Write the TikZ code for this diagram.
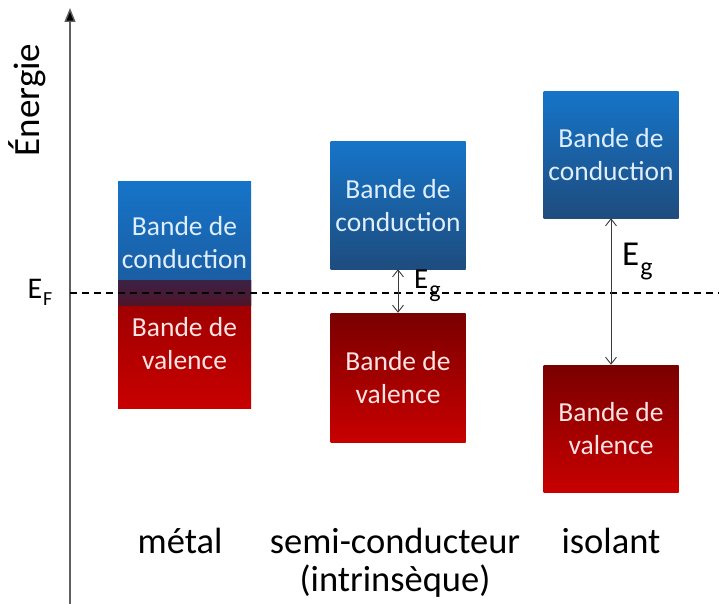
\documentclass[tikz,border=0pt]{standalone}
\usepackage{fontspec}
\setmainfont{Carlito}
\usetikzlibrary{arrows.meta,shadings}
\definecolor{blueT}{RGB}{22,116,200}
\definecolor{blueB}{RGB}{30,76,126}
\definecolor{redT}{RGB}{122,0,0}
\definecolor{redB}{RGB}{200,0,0}
\definecolor{mblueB}{RGB}{28,88,154}
\definecolor{ovT}{RGB}{58,34,70}
\definecolor{ovB}{RGB}{80,20,40}
\definecolor{mredT}{RGB}{150,0,0}
\definecolor{txtB}{RGB}{222,238,252}
\definecolor{txtR}{RGB}{252,228,228}
\definecolor{axisgray}{RGB}{95,95,95}
\definecolor{gapgray}{RGB}{60,60,60}
\begin{document}
\begin{tikzpicture}[x=1pt,y=-1pt,
  band/.style={inner sep=0pt, align=center, minimum width=134pt,
    font=\fontsize{27.5}{33}\selectfont},
  cband/.style={band, top color=blueT, bottom color=blueB, text=txtB},
  vband/.style={band, top color=redT, bottom color=redB, text=txtR},
  gaparrow/.style={draw=gapgray, line width=0.9pt,
    {Straight Barb[length=7pt,width=11pt]}-{Straight Barb[length=7pt,width=11pt]}},
  lab/.style={font=\fontsize{36.5}{40}\selectfont, anchor=base},
  eglab/.style={anchor=west, inner sep=0pt}]
\useasboundingbox (0,0) rectangle (719,604);

% metal
\node[cband, minimum width=133pt, minimum height=124pt, bottom color=mblueB] (mc) at (184.5,243) {Bande de\\conduction};
\node[vband, minimum width=133pt, minimum height=128pt, top color=mredT] (mv) at (184.5,344) {Bande de\\valence};
\shade[top color=ovT, bottom color=ovB] (118,280) rectangle (251,305);

% semi-conducteur
\node[cband, minimum width=135pt, minimum height=127pt] (sc) at (398,205.5) {Bande de\\conduction};
\node[vband, minimum width=135pt, minimum height=129pt] (sv) at (398,377.5) {Bande de\\valence};

% isolant
\node[cband, minimum width=135pt, minimum height=126pt] (ic) at (611,155) {Bande de\\conduction};
\node[vband, minimum width=135pt, minimum height=127pt] (iv) at (611,428.5) {Bande de\\valence};

% axis
\coordinate (ax0) at (70,604);
\coordinate (ax1) at (70,8);
\draw[draw=axisgray, line width=1.4pt, -{Triangle[length=14pt,width=11pt,fill=black]}] (ax0) -- (ax1);
\node[rotate=90, font=\fontsize{37}{40}\selectfont] (energie) at (27,100) {Énergie};

% Fermi level
\coordinate (ef0) at (70,293);
\coordinate (ef1) at (719,293);
\draw[black, line width=1.3pt, dash pattern=on 7pt off 5pt] (ef0) -- (ef1);
\node[font=\fontsize{30}{32}\selectfont, inner sep=0pt] (eflab) at (40,292) {E\kern1pt\raisebox{-7pt}{\fontsize{20}{20}\selectfont F}};

% gaps
\draw[gaparrow] (sc.south) -- (sv.north);
\draw[gaparrow] (ic.south) -- (iv.north);
\node[eglab, font=\fontsize{29}{30}\selectfont] (eg1) at (414,286) {E\kern1pt\raisebox{-9pt}{\fontsize{24}{24}\selectfont g}};
\node[eglab, font=\fontsize{35}{38}\selectfont] (eg2) at (622,262) {E\kern1pt\raisebox{-10pt}{\fontsize{26}{26}\selectfont g}};

% labels
\node[lab] (l1) at (180,553) {métal};
\node[lab] (l2) at (395,553) {semi-conducteur};
\node[lab] (l3) at (395,591) {(intrinsèque)};
\node[lab] (l4) at (611,553) {isolant};
\end{tikzpicture}
\end{document}
